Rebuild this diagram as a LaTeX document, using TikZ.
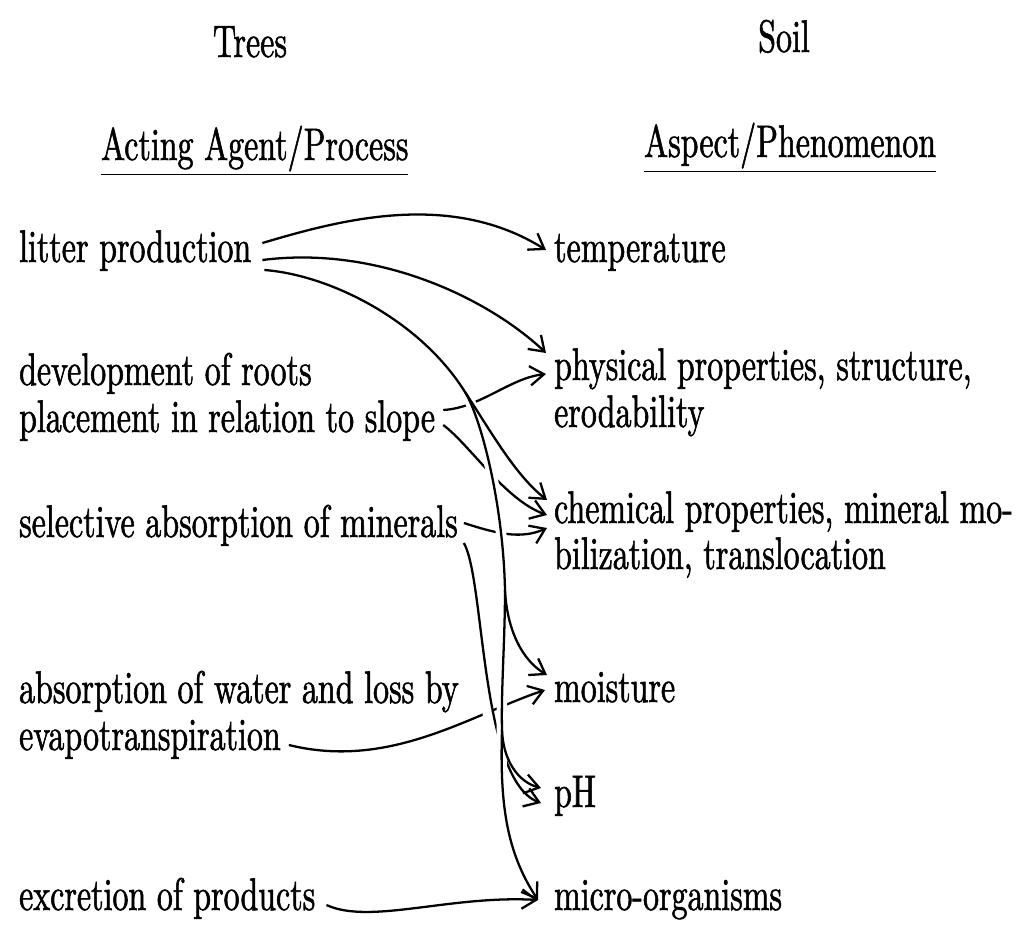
\documentclass[tikz,border=0pt]{standalone}
\usepackage{fontspec}
\setmainfont{lmroman10-regular.otf}[FakeStretch=0.70, FakeBold=1.2]
\usetikzlibrary{arrows.meta}
\tikzset{every path/.style={line width=1.3pt},
  lbl/.style={anchor=base west, inner sep=0pt, font=\fontsize{26}{27}\selectfont},
  head/.style={lbl, anchor=base},
  link/.style={-{Straight Barb[length=8pt,width=11pt]}},
  gapped/.style={preaction={draw=white, line width=6pt, arrows=-, shorten <=24pt, shorten >=20pt}}}

\begin{document}
\begin{tikzpicture}[x=0.02cm, y=-0.02cm]
\useasboundingbox (0,0) rectangle (1021,926);
\node[head] (trees) at (250,57) {Trees};
\node[head] (soil) at (784,52) {Soil};
\node[lbl] (agent) at (100,160) {\underline{Acting Agent/Process}};
\node[lbl] (aspect) at (643,157) {\underline{Aspect/Phenomenon}};

\node[lbl] (litter) at (18,262) {litter production};
\node[lbl] (roots) at (18,385) {development of roots};
\node[lbl] (slope) at (18,432) {placement in relation to slope};
\node[lbl] (minerals) at (18,537) {selective absorption of minerals};
\node[lbl] (water) at (18,703) {absorption of water and loss by};
\node[lbl] (evapo) at (18,750) {evapotranspiration};
\node[lbl] (excr) at (18,910) {excretion of products};

\node[lbl] (temp) at (553,262) {temperature};
\node[lbl] (phys) at (553,380) {physical properties, structure,};
\node[lbl] (erod) at (553,427) {erodability};
\node[lbl] (chem) at (553,523) {chemical properties, mineral mo-};
\node[lbl] (mobil) at (553,569) {bilization, translocation};
\node[lbl] (moist) at (553,702) {moisture};
\node[lbl] (ph) at (553,807) {pH};
\node[lbl] (micro) at (553,910) {micro-organisms};

\coordinate (f1) at (465,392);
\coordinate (f2) at (505,590);
\coordinate (f3) at (502,730);

\draw[link] ([shift={(10,-19)}]litter.base east) .. controls (340,220) and (450,190) .. ([shift={(-7,-12)}]temp.base west);
\draw[link] ([shift={(10,-2)}]litter.base east) .. controls (380,245) and (490,300) .. ([shift={(-7,-27)}]phys.base west);
\draw[link] ([shift={(7,-22)}]slope.base east) .. controls (480,408) and (510,378) .. ([shift={(-7,-6)}]phys.base west);
\draw[link] ([shift={(7,-7)}]slope.base east) .. controls (470,445) and (505,500) .. ([shift={(-6,-8)}]chem.base west);
\draw[link] ([shift={(5,-14)}]minerals.base east) .. controls (495,533) and (520,540) .. ([shift={(-6,5)}]chem.base west);
\draw[link] ([shift={(7,-5)}]evapo.base east) .. controls (390,770) and (470,715) .. ([shift={(-8,-12)}]moist.base west);
\draw[link] ([shift={(10,-5)}]excr.base east) .. controls (370,925) and (450,895) .. ([shift={(-15,-10)}]micro.base west);
\draw[link,gapped] ([shift={(5,6)}]minerals.base east) .. controls (485,580) and (480,780) .. ([shift={(-12,-4)}]ph.base west);
\draw[link,gapped] ([shift={(12,8)}]litter.base east) .. controls (330,275) and (420,320) .. (f1)
  .. controls (480,416) and (503,500) .. (f2) .. controls (505,640) and (501,690) .. (f3)
  .. controls (500,800) and (505,850) .. ([shift={(-15,-10)}]micro.base west);
\draw[link] (f1) .. controls (490,430) and (515,475) .. ([shift={(-6,-23)}]chem.base west);
\draw[link] (f2) .. controls (507,630) and (522,660) .. ([shift={(-6,-27)}]moist.base west);
\draw[link] (f3) .. controls (503,760) and (518,782) .. ([shift={(-12,-19)}]ph.base west);
\end{tikzpicture}
\end{document}
